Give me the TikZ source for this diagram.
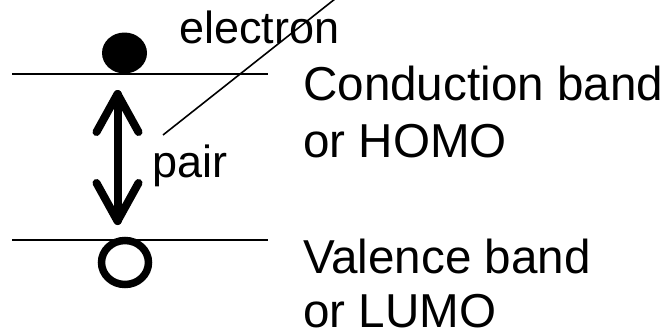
\documentclass[tikz,border=0pt]{standalone}
\usepackage{fontspec}
\setmainfont{Liberation Sans}
\usetikzlibrary{shapes.geometric}
\begin{document}
\begin{tikzpicture}[x=1pt,y=-1pt,
  lbl/.style={anchor=base west,inner sep=0pt,font=\fontsize{45}{54}\selectfont},
  big/.style={lbl,font=\fontsize{47.6}{57}\selectfont},
  level/.style={line width=2pt},
  thick arrow/.style={line width=8pt,line cap=round,line join=round}]
\useasboundingbox (0,0) rectangle (668,332);
% levels
\coordinate (c1) at (12,73.5);
\coordinate (c2) at (268,73.5);
\coordinate (v1) at (12,240);
\coordinate (v2) at (268,240);
\draw[level] (c1) -- (c2);
\draw[level] (v1) -- (v2);
% electron and hole
\node[ellipse,fill=black,inner sep=0pt,minimum width=45pt,minimum height=41pt] (el) at (124.5,53) {};
\node[ellipse,draw=black,line width=7.5pt,inner sep=0pt,minimum width=47pt,minimum height=44pt] (ho) at (125,262.5) {};
% double arrow
\coordinate (at) at (117.5,94);
\coordinate (ab) at (117.5,221);
\draw[thick arrow] (at) -- (ab);
\draw[thick arrow] ([xshift=-21pt,yshift=-38pt]at) -- (at) -- ([xshift=21pt,yshift=-38pt]at);
\draw[thick arrow] ([xshift=-21pt,yshift=38pt]ab) -- (ab) -- ([xshift=21pt,yshift=38pt]ab);
% labels
\node[lbl] (electron) at (179,43) {electron};
\node[lbl] (pair) at (152,177) {pair};
\node[big] (cb) at (303,100) {Conduction band};
\node[big] (homo) at (303,157) {or HOMO};
\node[big] (vb) at (303,273) {Valence band};
\node[big] (lumo) at (303,327.5) {or LUMO};
% pair line
\coordinate (p1) at (163,135);
\coordinate (p2) at (340,-5);
\draw[line width=1.6pt] (p1) -- (p2);
\end{tikzpicture}
\end{document}
